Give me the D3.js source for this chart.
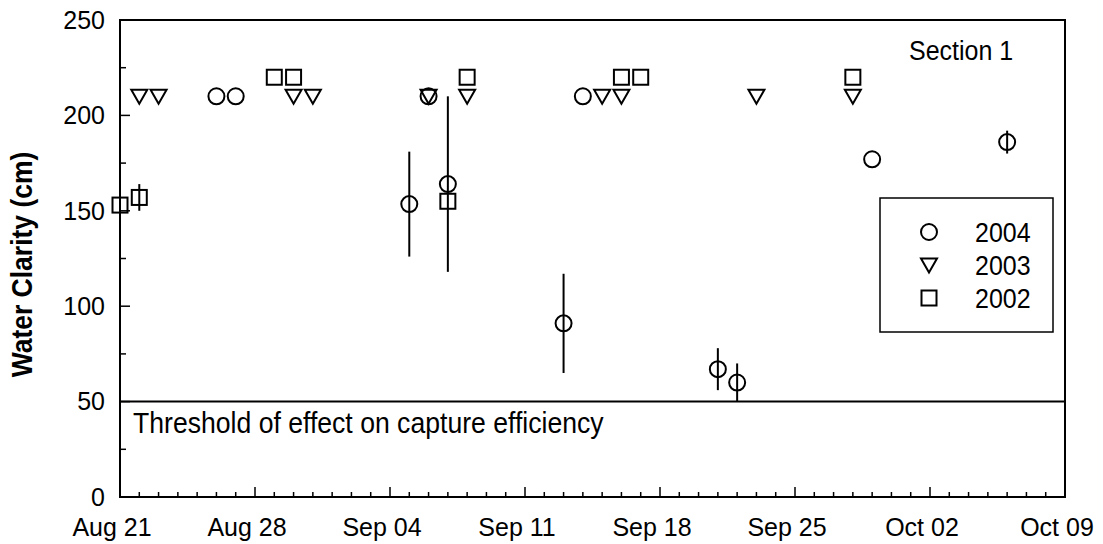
<!DOCTYPE html>
<html>
<head>
<meta charset="utf-8">
<script src="https://cdn.jsdelivr.net/npm/d3@7"></script>
<style>
  html, body { margin: 0; padding: 0; background: #fff; }
  svg { display: block; font-family: "Liberation Sans", Arial, sans-serif; }
</style>
</head>
<body>
<svg id="chart" width="1103" height="544"></svg>
<script>
// ---- data ----
const dates2004 = ["2004-08-26","2004-08-27","2004-09-05","2004-09-06","2004-09-07","2004-09-13","2004-09-14","2004-09-21","2004-09-22","2004-09-29","2004-10-06"];
const values2004 = [210, 210, 153.5, 210, 164, 91, 210, 67, 60, 177, 186];
const errors2004 = [0, 0, 27.5, 0, 46, 26, 0, 11, 10, 0, 6];

const dates2003 = ["2004-08-22","2004-08-23","2004-08-30","2004-08-31","2004-09-06","2004-09-08","2004-09-15","2004-09-16","2004-09-23","2004-09-28"];
const values2003 = [210, 210, 210, 210, 210, 210, 210, 210, 210, 210];

const dates2002 = ["2004-08-21","2004-08-22","2004-08-29","2004-08-30","2004-09-07","2004-09-08","2004-09-16","2004-09-17","2004-09-28"];
const values2002 = [153, 157, 220, 220, 155, 220, 220, 220, 220];
const errors2002 = [0, 7, 0, 0, 0, 0, 0, 0, 0];

const yTicks = [0, 50, 100, 150, 200, 250];
const seriesNames = ["2004", "2003", "2002"];
const thresholdValue = 50;
const thresholdLabel = "Threshold of effect on capture efficiency";
const yTitle = "Water Clarity (cm)";
const panelLabel = "Section 1";
const xStart = "2004-08-21", xEnd = "2004-10-09";

// ---- layout ----
const parse = d3.utcParse("%Y-%m-%d");
const svg = d3.select("#chart");
const L = 120, R = 1065, T = 20, B = 497;
const x = d3.scaleUtc().domain([parse(xStart), parse(xEnd)]).range([L, R]);
const y = d3.scaleLinear().domain([0, 250]).range([B, T]);
const FS = 25, SY = 1.1;

function txt(parent, tx, ty, str, o = {}) {
  const sy = o.sy || SY;
  return parent.append("text")
    .attr("transform", `translate(${tx},${ty})${o.rot ? " rotate(" + o.rot + ")" : ""} scale(1,${sy})`)
    .attr("text-anchor", o.anchor || "start")
    .attr("dy", o.dy || null)
    .attr("font-size", o.fs || FS)
    .attr("font-weight", o.bold ? "bold" : null)
    .text(str);
}

// frame
svg.append("rect").attr("x", L).attr("y", T).attr("width", R - L).attr("height", B - T)
  .attr("fill", "none").attr("stroke", "#000").attr("stroke-width", 2);

// x axis (ticks inside)
const xDays = d3.utcDay.range(parse(xStart), d3.utcDay.offset(parse(xEnd), 1));
svg.append("g").selectAll("line").data(xDays).join("line")
  .attr("x1", d => x(d)).attr("x2", d => x(d))
  .attr("y1", B).attr("y2", (d, i) => i % 7 === 0 ? B - 10 : B - 5)
  .attr("stroke", "#000").attr("stroke-width", 1.5);
const xMajor = d3.utcDay.range(parse(xStart), d3.utcDay.offset(parse(xEnd), 1), 7);
const fmt = d3.utcFormat("%b %d");
const gx = svg.append("g");
xMajor.forEach(d => txt(gx, x(d) - 8, 536, fmt(d), { anchor: "middle", sy: 1.05 }));

// y axis
const yMinor = d3.range(0, 251, 25);
svg.append("g").selectAll("line").data(yMinor).join("line")
  .attr("x1", L).attr("x2", d => d % 50 === 0 ? L + 10 : L + 6)
  .attr("y1", d => y(d)).attr("y2", d => y(d))
  .attr("stroke", "#000").attr("stroke-width", 1.5);
const gy = svg.append("g");
yTicks.forEach(d => txt(gy, 105, y(d), d, { anchor: "end", dy: "0.35em", sy: 1.0001 }));

txt(svg, 32, (T + B) / 2 + 6, yTitle, { anchor: "middle", rot: -90, bold: true, fs: 26.5 });

// threshold line
svg.append("line").attr("x1", L).attr("x2", R).attr("y1", y(thresholdValue)).attr("y2", y(thresholdValue))
  .attr("stroke", "#000").attr("stroke-width", 2);
txt(svg, 133, 433, thresholdLabel, { fs: 26.6 });

txt(svg, 909, 60, panelLabel);

// symbols
const sym = {
  circle: (g) => g.append("circle").attr("r", 8),
  tri: (g) => g.append("path").attr("d", "M-8,-6.5 L8,-6.5 L0,7.5 Z"),
  square: (g) => g.append("rect").attr("x", -7.5).attr("y", -7.5).attr("width", 15).attr("height", 15)
};
function drawSeries(dates, values, errors, kind) {
  const data = dates.map((d, i) => ({ d: parse(d), v: values[i], e: errors ? errors[i] : 0 }));
  const g = svg.append("g");
  g.selectAll("line").data(data.filter(p => p.e > 0)).join("line")
    .attr("x1", p => x(p.d)).attr("x2", p => x(p.d))
    .attr("y1", p => y(p.v + p.e)).attr("y2", p => y(p.v - p.e))
    .attr("stroke", "#000").attr("stroke-width", 2);
  data.forEach(p => {
    const m = g.append("g").attr("transform", `translate(${x(p.d)},${y(p.v)})`)
      .attr("fill", "none").attr("stroke", "#000").attr("stroke-width", 2);
    sym[kind](m);
  });
}
drawSeries(dates2002, values2002, errors2002, "square");
drawSeries(dates2003, values2003, null, "tri");
drawSeries(dates2004, values2004, errors2004, "circle");

// legend
svg.append("rect").attr("x", 880).attr("y", 198).attr("width", 173).attr("height", 134)
  .attr("fill", "#fff").attr("stroke", "#000").attr("stroke-width", 1.5);
const kinds = ["circle", "tri", "square"];
const rowY = [232, 265, 298];
const gl = svg.append("g");
seriesNames.forEach((n, i) => {
  const m = gl.append("g").attr("transform", `translate(929,${rowY[i]})`)
    .attr("fill", "none").attr("stroke", "#000").attr("stroke-width", 2);
  sym[kinds[i]](m);
  txt(gl, 975, rowY[i], n, { dy: "0.36em" });
});
</script>
</body>
</html>
